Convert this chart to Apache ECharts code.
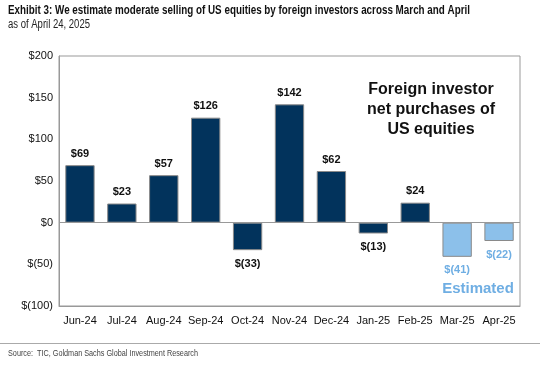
<!DOCTYPE html>
<html><head><meta charset="utf-8">
<script src="https://cdn.jsdelivr.net/npm/echarts@6/dist/echarts.min.js"></script>
<style>html,body{margin:0;padding:0;background:#fff}#c{width:543px;height:368px}</style>
</head><body><div id="c"></div>
<script>
var categories = ['Jun-24','Jul-24','Aug-24','Sep-24','Oct-24','Nov-24','Dec-24','Jan-25','Feb-25','Mar-25','Apr-25'];
var values = [69, 23, 57, 126, -33, 142, 62, -13, 24, -41, -22];
var estimated = [false,false,false,false,false,false,false,false,false,true,true];
var yTicks = {min: -100, max: 200, interval: 50};

function fmt(v){ return v < 0 ? '$(' + (-v) + ')' : '$' + v; }

var ctx = document.createElement('canvas').getContext('2d');
function fitScale(text, font, target){ ctx.font = font; return target / ctx.measureText(text).width; }

var titleText = 'Exhibit 3: We estimate moderate selling of US equities by foreign investors across March and April';
var titleFont = 'bold 12.5px "Liberation Sans", Arial';
var subText = 'as of April 24, 2025';
var subFont = '12px "Liberation Sans", Arial';
var srcText = 'Source:  TIC, Goldman Sachs Global Investment Research';
var srcFont = '9px "Liberation Sans", Arial';

var chart = echarts.init(document.getElementById('c'));
var data = values.map(function(v,i){
  var est = estimated[i];
  return {
    value: v,
    itemStyle: {color: est ? '#8CC0EA' : '#02335C', borderColor: '#8a8a8a', borderWidth: 1},
    label: {
      position: v < 0 ? 'bottom' : 'top',
      color: est ? '#6FAEE3' : '#111',
      distance: v < 0 ? 8 : 6
    }
  };
});
chart.setOption({
  animation: false,
  grid: {left: 59, right: 23, top: 56, bottom: 62, show: true, borderColor: '#999', borderWidth: 1},
  xAxis: {
    type: 'category', data: categories,
    axisLine: {onZero: false, lineStyle: {color: '#999'}},
    axisTick: {show: false},
    axisLabel: {color: '#111', fontFamily: 'Liberation Sans, Arial', fontSize: 11, margin: 9, interval: 0}
  },
  yAxis: {
    type: 'value', min: yTicks.min, max: yTicks.max, interval: yTicks.interval,
    axisLine: {show: true, lineStyle: {color: '#999'}},
    axisTick: {show: false},
    splitLine: {show: false},
    axisLabel: {color: '#111', fontFamily: 'Liberation Sans, Arial', fontSize: 11, margin: 6, formatter: fmt}
  },
  series: [{
    type: 'bar', data: data, barWidth: '70%',
    label: {show: true, fontFamily: 'Liberation Sans, Arial', fontWeight: 'bold', fontSize: 11,
      formatter: function(p){ return fmt(p.value); }},
    markLine: {silent: true, symbol: 'none', label: {show: false},
      lineStyle: {color: '#999', type: 'solid', width: 1},
      data: [{yAxis: 0}]}
  }],
  graphic: [
    {type: 'text', x: 8, y: 4, scaleX: fitScale(titleText, titleFont, 462), style: {text: titleText, font: titleFont, fill: '#111'}},
    {type: 'text', x: 8, y: 19, scaleX: fitScale(subText, subFont, 82), style: {text: subText, font: subFont, fill: '#222'}},
    {type: 'text', x: 431, y: 80, style: {text: 'Foreign investor\nnet purchases of\nUS equities', font: 'bold 16px "Liberation Sans", Arial', fill: '#111', align: 'center', lineHeight: 20}},
    {type: 'text', x: 478, y: 281, style: {text: 'Estimated', font: 'bold 15px "Liberation Sans", Arial', fill: '#6FAEE3', align: 'center'}},
    {type: 'rect', shape: {x: 0, y: 343, width: 540, height: 1}, style: {fill: '#aaa'}},
    {type: 'text', x: 8, y: 349, scaleX: fitScale(srcText, srcFont, 190), style: {text: srcText, font: srcFont, fill: '#444'}}
  ]
});
</script></body></html>
